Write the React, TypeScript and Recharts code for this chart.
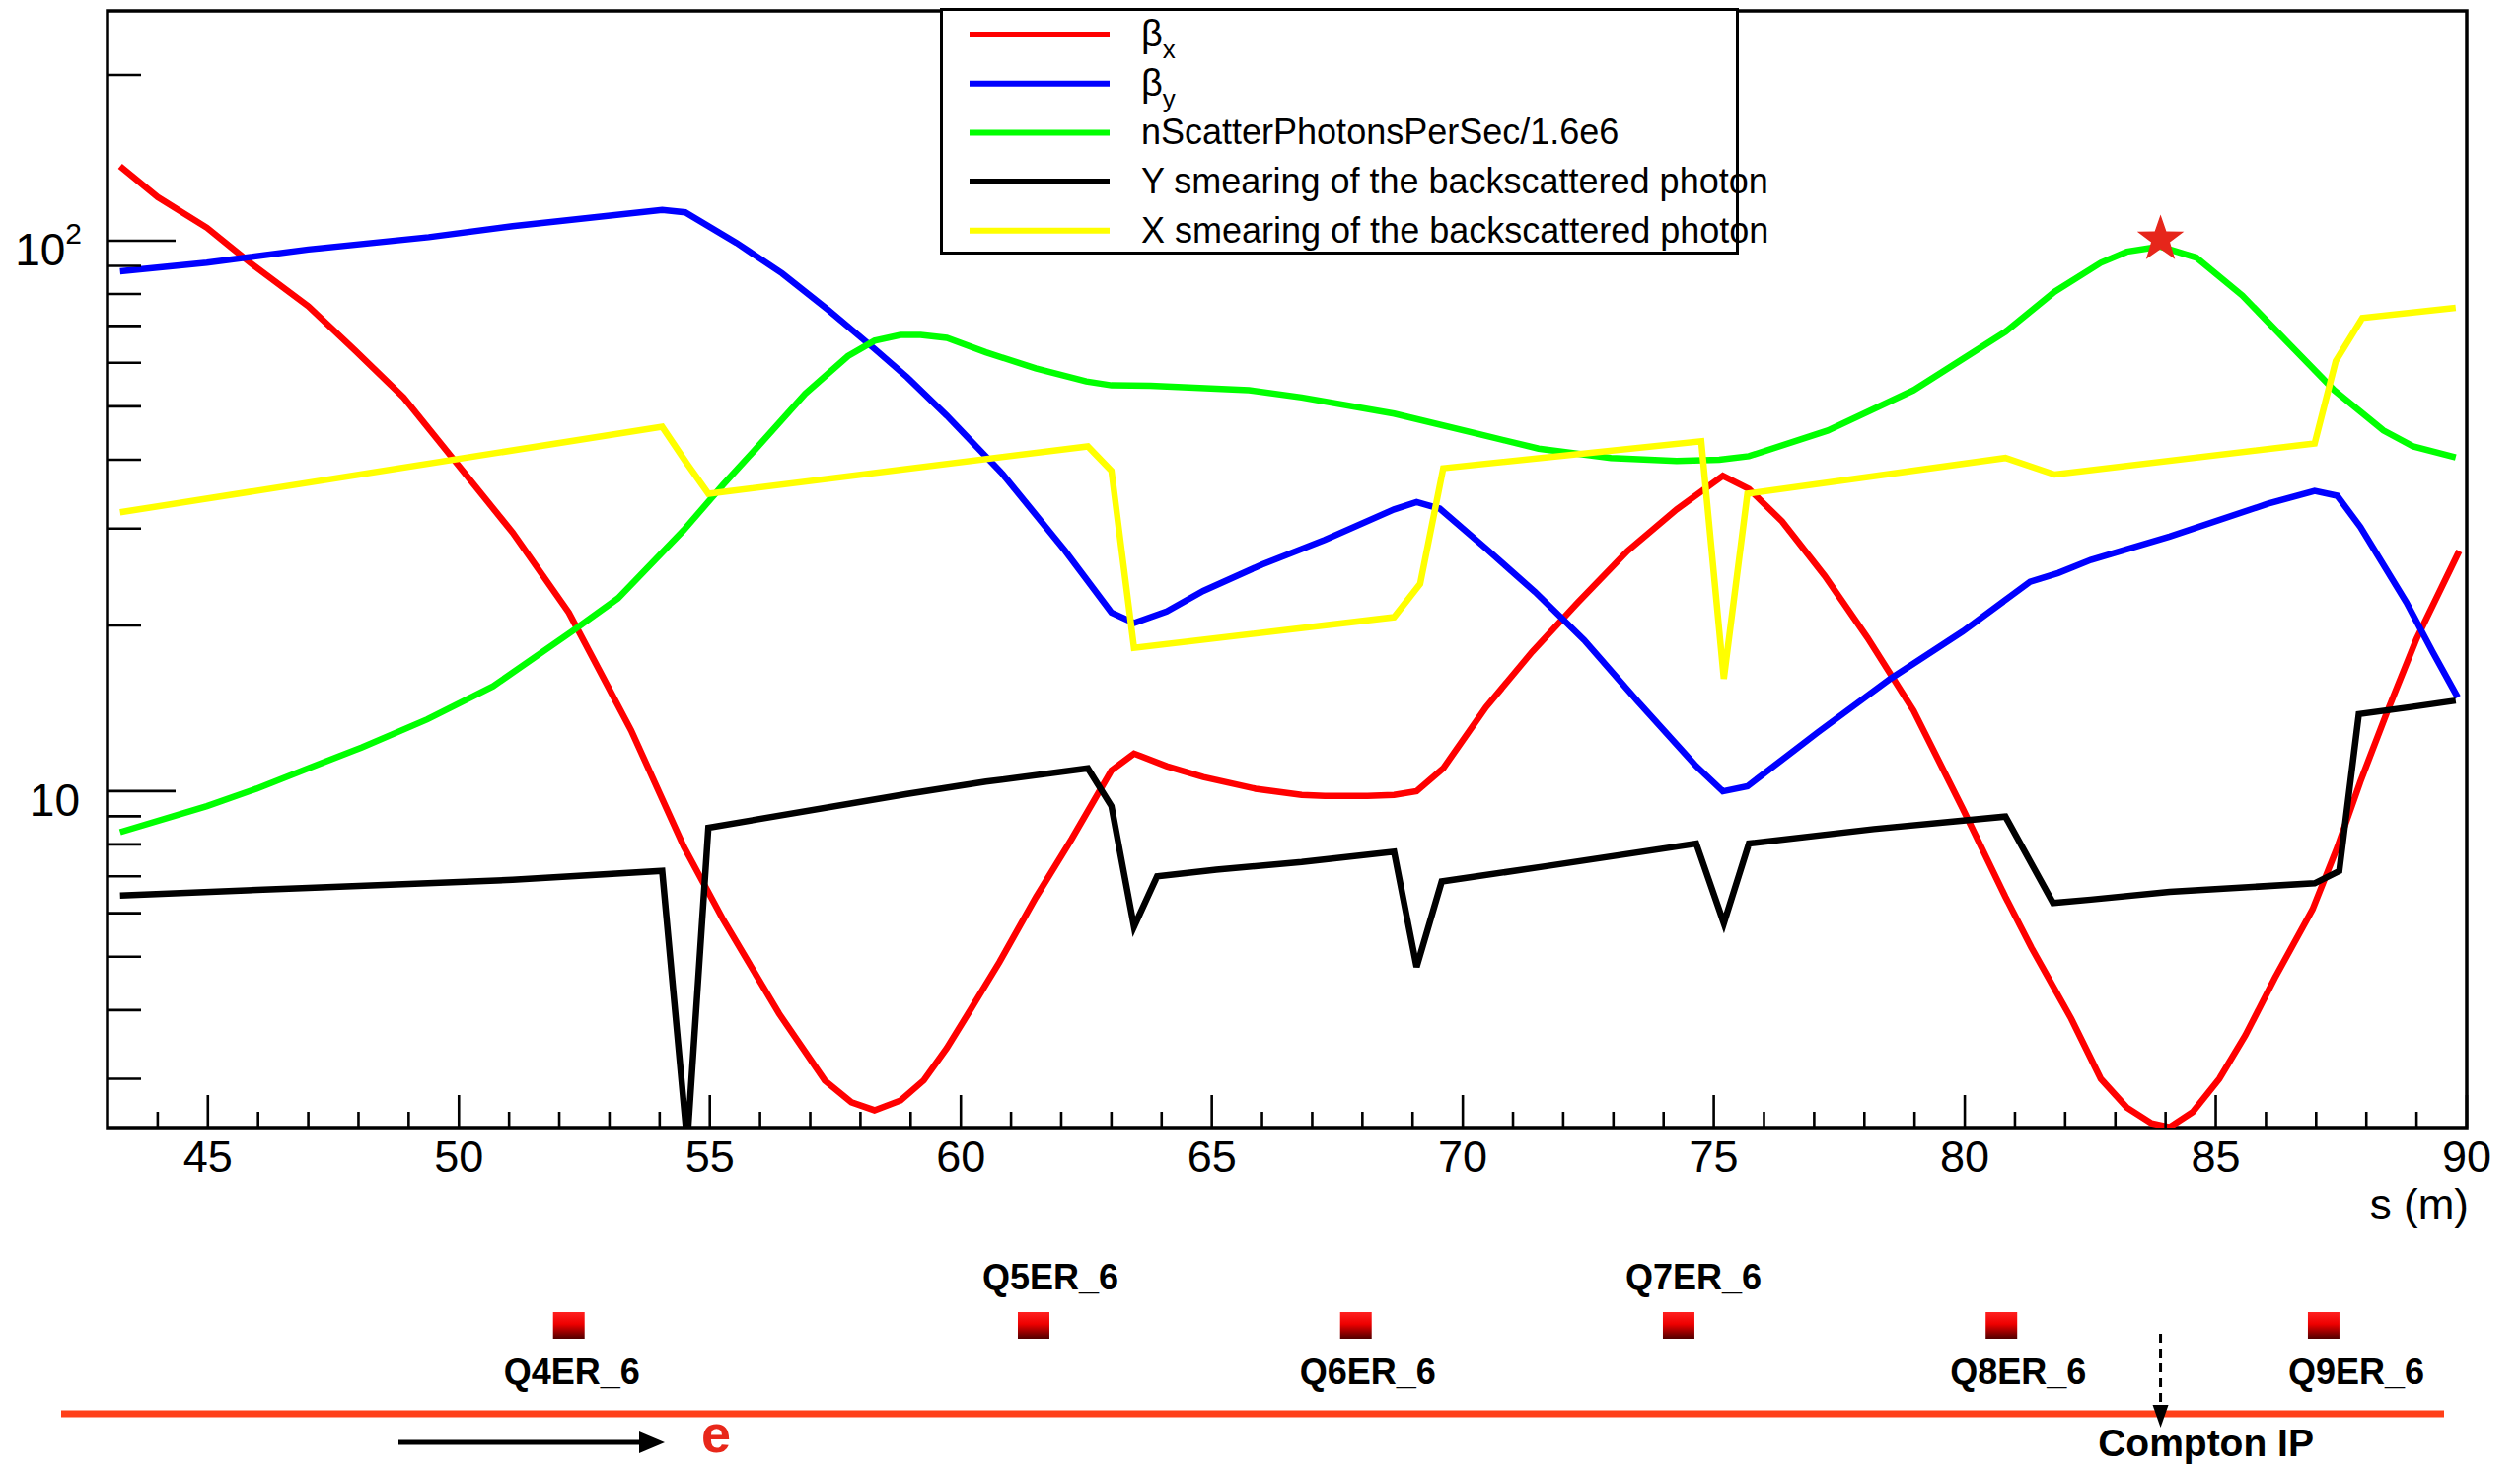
import React from "react";
import { ComposedChart, Line, Scatter, XAxis, YAxis, Legend, ReferenceArea } from "recharts";

type Pt = [number, number];

// s (m) vs value
const betaX: Pt[] = [
  [43.25, 136.6], [44.0, 120], [44.98, 105.6], [45.84, 91.2], [47.0, 76.0], [47.93, 63.2],
  [48.9, 51.9], [49.9, 40.0], [51.07, 29.5], [52.19, 21.1], [53.43, 12.9], [54.48, 7.93],
  [55.26, 5.85], [56.38, 3.94], [57.29, 2.98], [57.82, 2.72], [58.28, 2.63], [58.8, 2.74],
  [59.26, 2.98], [59.72, 3.41], [60.18, 3.99], [60.77, 4.89], [61.49, 6.4], [62.21, 8.19],
  [63.0, 10.9], [63.45, 11.7], [64.1, 11.1], [64.83, 10.6], [65.87, 10.1], [66.79, 9.84],
  [67.25, 9.8], [68.1, 9.8], [68.63, 9.84], [69.08, 10.0], [69.61, 11.0], [70.46, 14.2],
  [71.38, 17.9], [72.29, 22.0], [73.28, 27.3], [74.26, 32.5], [75.18, 37.4], [75.7, 35.4],
  [76.36, 30.9], [77.21, 24.6], [78.06, 19.0], [78.98, 14.0], [79.96, 9.29], [80.81, 6.42],
  [81.33, 5.19], [82.12, 3.86], [82.71, 3.0], [83.23, 2.66], [83.72, 2.49], [84.08, 2.45],
  [84.54, 2.61], [85.07, 3.0], [85.59, 3.6], [86.18, 4.58], [86.93, 6.1], [87.42, 7.9],
  [87.88, 10.4], [88.41, 13.9], [89.0, 18.9], [89.85, 27.3],
];

const betaY: Pt[] = [
  [43.25, 88], [44.98, 91.2], [47.0, 96.4], [49.4, 101.5], [51.07, 106.3], [54.05, 113.7],
  [54.51, 112.6], [55.53, 99.1], [56.44, 87.2], [57.36, 74.8], [58.28, 63.6], [58.93, 56.5],
  [59.72, 48.1], [60.83, 37.7], [62.08, 27.3], [63.0, 21.1], [63.45, 20.2], [64.1, 21.2],
  [64.83, 23.1], [66.0, 25.8], [67.25, 28.6], [68.63, 32.5], [69.08, 33.5], [69.54, 32.6],
  [70.46, 27.6], [71.44, 23.0], [72.42, 18.8], [73.47, 14.6], [74.65, 11.1], [75.18, 9.99],
  [75.67, 10.2], [77.08, 12.8], [78.52, 16.0], [79.96, 19.5], [81.3, 24.0], [81.86, 24.9],
  [82.51, 26.3], [84.08, 29.0], [86.05, 33.3], [86.97, 35.1], [87.42, 34.4], [87.88, 30.2],
  [88.8, 22.0], [89.32, 17.9], [89.82, 14.8],
];

const nScatter: Pt[] = [
  [43.25, 8.42], [44.98, 9.39], [45.97, 10.1], [47.0, 11.0], [48.06, 12.0], [49.37, 13.5],
  [50.68, 15.5], [52.25, 19.5], [53.17, 22.4], [54.48, 29.8], [55.26, 36.0], [55.92, 41.9],
  [56.9, 52.7], [57.75, 61.7], [58.28, 65.8], [58.8, 67.4], [59.2, 67.4], [59.72, 66.6],
  [60.5, 62.7], [61.49, 58.6], [62.5, 55.5], [63.0, 54.6], [63.78, 54.5], [65.74, 53.5],
  [66.79, 51.9], [68.63, 48.5], [70.33, 44.5], [71.51, 41.9], [72.95, 40.3], [74.26, 39.8],
  [75.11, 40.0], [75.7, 40.6], [77.27, 45.2], [78.98, 53.5], [80.81, 68.3], [81.79, 80.8],
  [82.71, 91.2], [83.23, 95.5], [83.89, 97.6], [84.61, 93.2], [85.53, 79.5], [86.44, 65.2],
  [87.36, 53.5], [88.34, 45.2], [88.93, 42.3], [89.78, 40.4],
];

const ySmear: Pt[] = [
  [43.25, 6.46], [47.0, 6.67], [51.07, 6.9], [54.05, 7.16], [54.55, 2.3], [54.97, 8.58],
  [58.93, 9.88], [60.5, 10.4], [62.53, 11.0], [63.0, 9.39], [63.45, 5.67], [63.91, 7.0],
  [65.09, 7.2], [66.79, 7.43], [68.63, 7.76], [69.08, 4.79], [69.58, 6.85], [71.64, 7.3],
  [74.65, 8.03], [75.2, 5.75], [75.7, 8.03], [78.19, 8.53], [80.81, 8.99], [81.76, 6.26],
  [82.51, 6.35], [84.08, 6.56], [86.97, 6.8], [87.46, 7.16], [87.85, 13.8], [88.86, 14.2],
  [89.78, 14.6],
];

const xSmear: Pt[] = [
  [43.25, 32.1], [54.05, 45.9], [54.54, 39.4], [54.97, 34.7], [62.53, 42.3], [63.0, 38.2],
  [63.45, 18.2], [68.63, 20.7], [69.15, 23.8], [69.61, 38.6], [74.75, 43.2], [75.2, 16.0],
  [75.67, 34.7], [80.81, 40.3], [81.79, 37.6], [86.97, 42.8], [87.39, 60.4], [87.92, 72.4],
  [89.78, 75.5],
];

const comptonIP: Pt[] = [[83.9, 100.6]];

const seriesNames = [
  "β_x",
  "β_y",
  "nScatterPhotonsPerSec/1.6e6",
  "Y smearing of the backscattered photon",
  "X smearing of the backscattered photon",
];
const seriesColors = ["#ff0000", "#0000ff", "#00ff00", "#000000", "#ffff00"];
const seriesData = [betaX, betaY, nScatter, ySmear, xSmear];

const xTicks = Array.from({ length: 47 }, (_, i) => 44 + i);
const yTicks = [3, 4, 5, 6, 7, 8, 9, 10, 20, 30, 40, 50, 60, 70, 80, 90, 100, 200];

const magnetNames = ["Q4ER_6", "Q5ER_6", "Q6ER_6", "Q7ER_6", "Q8ER_6", "Q9ER_6"];
const magnetS = [52.19, 61.45, 67.87, 74.3, 80.73, 87.15];
const magnetLabelAbove = [false, true, false, true, false, false];
const magnetLabelShift = [3, 17, 12, 15, 17, 33];

const W = 2555;
const H = 1488;
const PLOT_L = 109;
const PLOT_R = 2501;
const PLOT_T = 11;
const PLOT_B = 1143;
const X_MIN = 43;
const X_MAX = 90;
const Y_MIN = 2.446;
const Y_MAX = 261.6;
const XAXIS_H = 110;
const FONT = "'Liberation Sans', Arial, Helvetica, sans-serif";

const toRows = (pts: Pt[]) => pts.map(([s, v]) => ({ s, v }));
const sToPx = (s: number) => PLOT_L + ((s - X_MIN) * (PLOT_R - PLOT_L)) / (X_MAX - X_MIN);

function XTick({ x, y, payload }: any) {
  const v = payload.value;
  const major = v % 5 === 0;
  return (
    <g>
      <line x1={x} x2={x} y1={y} y2={y - (major ? 33 : 16)} stroke="#000" strokeWidth={2.6} />
      {major && (
        <text x={x} y={y + 45} textAnchor="middle" fontSize={45} fontFamily={FONT} fill="#000">
          {v}
        </text>
      )}
    </g>
  );
}

function YTick({ x, y, payload }: any) {
  const v = payload.value;
  const major = v === 10 || v === 100;
  return (
    <g>
      <line x1={x} x2={x + (major ? 69 : 34)} y1={y} y2={y} stroke="#000" strokeWidth={2.6} />
      {v === 10 && (
        <text x={x - 28} y={y + 25} textAnchor="end" fontSize={46} fontFamily={FONT} fill="#000">
          10
        </text>
      )}
      {v === 100 && (
        <text x={x - 26} y={y + 25} textAnchor="end" fontSize={46} fontFamily={FONT} fill="#000">
          10
          <tspan dy={-22} fontSize={30}>2</tspan>
        </text>
      )}
    </g>
  );
}

function Star({ cx, cy }: any) {
  const pts: string[] = [];
  for (let i = 0; i < 10; i++) {
    const r = i % 2 === 0 ? 25 : 10;
    const a = -Math.PI / 2 + (i * Math.PI) / 5;
    pts.push(`${cx + r * Math.cos(a)},${cy + r * Math.sin(a)}`);
  }
  return <polygon points={pts.join(" ")} fill="#e6261b" />;
}

function LegendBox({ payload }: any) {
  const items = (payload || [])
    .filter((p: any) => p.type !== "none" && seriesNames.includes(String(p.value)))
    .sort((a: any, b: any) => seriesNames.indexOf(String(a.value)) - seriesNames.indexOf(String(b.value)));
  return (
    <svg width={810} height={250} style={{ overflow: "visible", display: "block" }}>
      <rect x={1.5} y={1.5} width={807} height={247} fill="#fff" stroke="#000" strokeWidth={3} />
      {items.map((it: any, i: number) => {
        const cy = 27 + i * 49.7;
        const [main, sub] = String(it.value).split("_");
        return (
          <g key={i}>
            <line x1={30} x2={172} y1={cy} y2={cy} stroke={it.color} strokeWidth={6} />
            <text x={204} y={cy + 12} fontSize={sub ? 38 : 36} fontFamily={FONT} fill="#000">
              {main}
              {sub && (
                <tspan dy={12} fontSize={26}>
                  {sub}
                </tspan>
              )}
            </text>
          </g>
        );
      })}
    </svg>
  );
}

function BeamLine() {
  const ipX = sToPx(comptonIP[0][0]);
  return (
    <svg
      width={W}
      height={H}
      style={{ position: "absolute", left: 0, top: 0, pointerEvents: "none" }}
    >
      <defs>
        <linearGradient id="magGrad" x1="0" y1="0" x2="0" y2="1">
          <stop offset="0" stopColor="#ff2020" />
          <stop offset="0.45" stopColor="#ee0000" />
          <stop offset="1" stopColor="#500000" />
        </linearGradient>
      </defs>
      <text x={2503} y={1236} textAnchor="end" fontSize={44} fontFamily={FONT} fill="#000">
        s (m)
      </text>
      {magnetNames.map((name, i) => {
        const cx = sToPx(magnetS[i]);
        return (
          <g key={name}>
            <rect x={cx - 16} y={1330} width={32} height={27} fill="url(#magGrad)" />
            <text
              x={cx + magnetLabelShift[i]}
              y={magnetLabelAbove[i] ? 1307 : 1403}
              textAnchor="middle"
              fontSize={36}
              fontWeight="bold"
              fontFamily={FONT}
              fill="#000"
            >
              {name}
            </text>
          </g>
        );
      })}
      <line x1={62} x2={2478} y1={1433} y2={1433} stroke="#ff4019" strokeWidth={7} />
      <line x1={404} x2={652} y1={1462} y2={1462} stroke="#000" strokeWidth={5} />
      <polygon points="674,1462 648,1451 648,1473" fill="#000" />
      <text x={726} y={1472} textAnchor="middle" fontSize={54} fontWeight="bold" fontFamily={FONT} fill="#e8271a">
        e
      </text>
      <line x1={ipX} x2={ipX} y1={1352} y2={1426} stroke="#000" strokeWidth={3} strokeDasharray="9 6" />
      <polygon points={`${ipX},1447 ${ipX - 8},1424 ${ipX + 8},1424`} fill="#000" />
      <text x={ipX + 46} y={1476} textAnchor="middle" fontSize={39} fontWeight="bold" fontFamily={FONT} fill="#000">
        Compton IP
      </text>
    </svg>
  );
}

export default function App() {
  return (
    <div style={{ position: "absolute", left: 0, top: 0, width: W, height: H, background: "#fff", fontFamily: FONT }}>
      <ComposedChart
        width={W}
        height={H}
        margin={{ top: PLOT_T, right: W - PLOT_R, bottom: H - PLOT_B - XAXIS_H, left: 0 }}
      >
        <XAxis
          type="number"
          dataKey="s"
          domain={[X_MIN, X_MAX]}
          allowDataOverflow
          ticks={xTicks}
          interval={0}
          tickSize={0}
          tickMargin={0}
          axisLine={false}
          tickLine={false}
          tick={(p: any) => <XTick {...p} />}
          height={XAXIS_H}
        />
        <YAxis
          type="number"
          dataKey="v"
          scale="log"
          domain={[Y_MIN, Y_MAX]}
          allowDataOverflow
          ticks={yTicks}
          interval={0}
          tickSize={0}
          tickMargin={0}
          axisLine={false}
          tickLine={false}
          tick={(p: any) => <YTick {...p} />}
          width={PLOT_L}
        />
        <ReferenceArea
          x1={X_MIN}
          x2={X_MAX}
          y1={Y_MIN}
          y2={Y_MAX}
          fill="none"
          stroke="#000"
          strokeWidth={3.5}
          ifOverflow="visible"
        />
        {seriesData.map((pts, i) => (
          <Line
            key={seriesNames[i]}
            data={toRows(pts)}
            dataKey="v"
            name={seriesNames[i]}
            type="linear"
            stroke={seriesColors[i]}
            strokeWidth={6.5}
            dot={false}
            activeDot={false}
            isAnimationActive={false}
          />
        ))}
        <Scatter
          data={toRows(comptonIP)}
          dataKey="v"
          shape={(p: any) => <Star {...p} />}
          legendType="none"
          isAnimationActive={false}
        />
        <Legend
          layout="horizontal"
          verticalAlign="middle"
          align="center"
          content={(p: any) => <LegendBox {...p} />}
          wrapperStyle={{ left: 953, top: 8, width: 810, height: 250 }}
        />
      </ComposedChart>
      <BeamLine />
    </div>
  );
}
